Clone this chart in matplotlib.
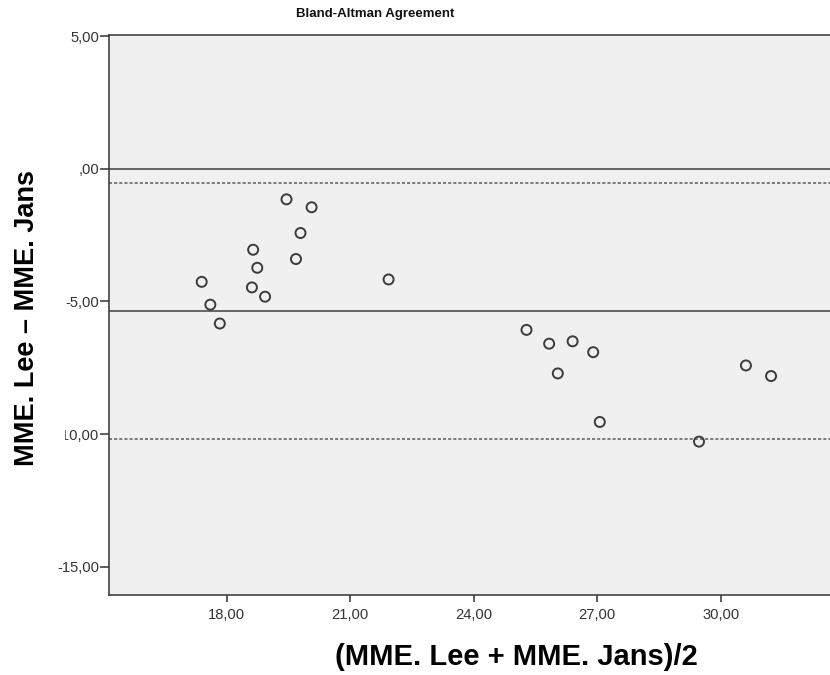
# Bland-Altman agreement plot, MME. Lee vs MME. Jans

import numpy as np
import matplotlib
matplotlib.use("Agg")
import matplotlib.pyplot as plt
from matplotlib.patches import Rectangle

plt.rcParams['font.family'] = ['Liberation Sans', 'DejaVu Sans']
plt.rcParams['lines.scale_dashes'] = False

# mean of the two measurements
avg = [17.39, 17.60, 17.83, 18.64, 18.74, 18.61, 18.93, 19.45, 20.06, 19.79,
       19.68, 21.93, 25.28, 25.83, 26.40, 26.90, 26.04, 27.06, 29.47, 30.61,
       31.22]
# difference Lee - Jans
diff = [-4.26, -5.12, -5.83, -3.05, -3.73, -4.47, -4.82, -1.15, -1.45, -2.42,
        -3.40, -4.17, -6.07, -6.59, -6.50, -6.91, -7.71, -9.54, -10.28, -7.41,
        -7.81]

x_ticks = [18, 21, 24, 27, 30]
x_labels = ["18,00", "21,00", "24,00", "27,00", "30,00"]
y_ticks = [5, 0, -5, -10, -15]
y_labels = ["5,00", ",00", "-5,00", "-10,00", "-15,00"]

mean_diff = np.mean(diff)
sd_diff = np.std(diff, ddof=1)
upper = mean_diff + 1.96 * sd_diff
lower = mean_diff - 1.96 * sd_diff

fig = plt.figure(figsize=(8.3, 6.75), dpi=100)
ax = fig.add_axes([0.1319, 0.1185, 0.868, 0.8296])
ax.set_facecolor("#f0f0f0")

line_col = "#5a5a5a"
ax.axhline(0, color=line_col, lw=1.3)
ax.axhline(mean_diff, color=line_col, lw=1.3)
ax.axhline(upper, color=line_col, lw=1.1, linestyle=(0, (2.2, 1.5)))
ax.axhline(lower, color=line_col, lw=1.1, linestyle=(0, (2.2, 1.5)))

ax.scatter(avg, diff, s=52, facecolors="none", edgecolors="#3c3c3c",
           linewidths=1.4, zorder=3)

ax.set_xlim(15.15, 32.65)
ax.set_ylim(-16.06, 5.04)
ax.set_xticks(x_ticks)
ax.set_xticklabels(x_labels)
ax.set_yticks(y_ticks)
ax.set_yticklabels(y_labels)

for side in ["left", "bottom", "top"]:
    ax.spines[side].set_color("#333333")
    ax.spines[side].set_linewidth(1.1)
ax.spines["right"].set_visible(False)

ax.tick_params(axis="x", direction="out", length=5, width=1.1,
               color="#333333", labelsize=10.6, labelcolor="#333333", pad=4)
ax.tick_params(axis="y", direction="out", length=6.5, width=1.1,
               color="#333333", labelsize=10.6, labelcolor="#333333", pad=1)

# white block behind the y label (covers part of the -10 label, as in the original)
fig.patches.append(Rectangle((0, 200 / 675), 64 / 830, 290 / 675,
                             transform=fig.transFigure, color="white", zorder=5))

fig.text(375 / 830, 1 - 14 / 675, "Bland-Altman Agreement", ha="center",
         va="center", fontsize=9.5, fontweight="bold", color="#111111")
fig.text(27 / 830, 1 - 318 / 675, "MME. Lee \u2013 MME. Jans", rotation=90,
         ha="center", va="center", fontsize=19.5, fontweight="bold", zorder=6)
fig.text(516 / 830, 1 - 657 / 675, "(MME. Lee + MME. Jans)/2", ha="center",
         va="center", fontsize=21, fontweight="bold")

fig.savefig("out.png", dpi=100)
